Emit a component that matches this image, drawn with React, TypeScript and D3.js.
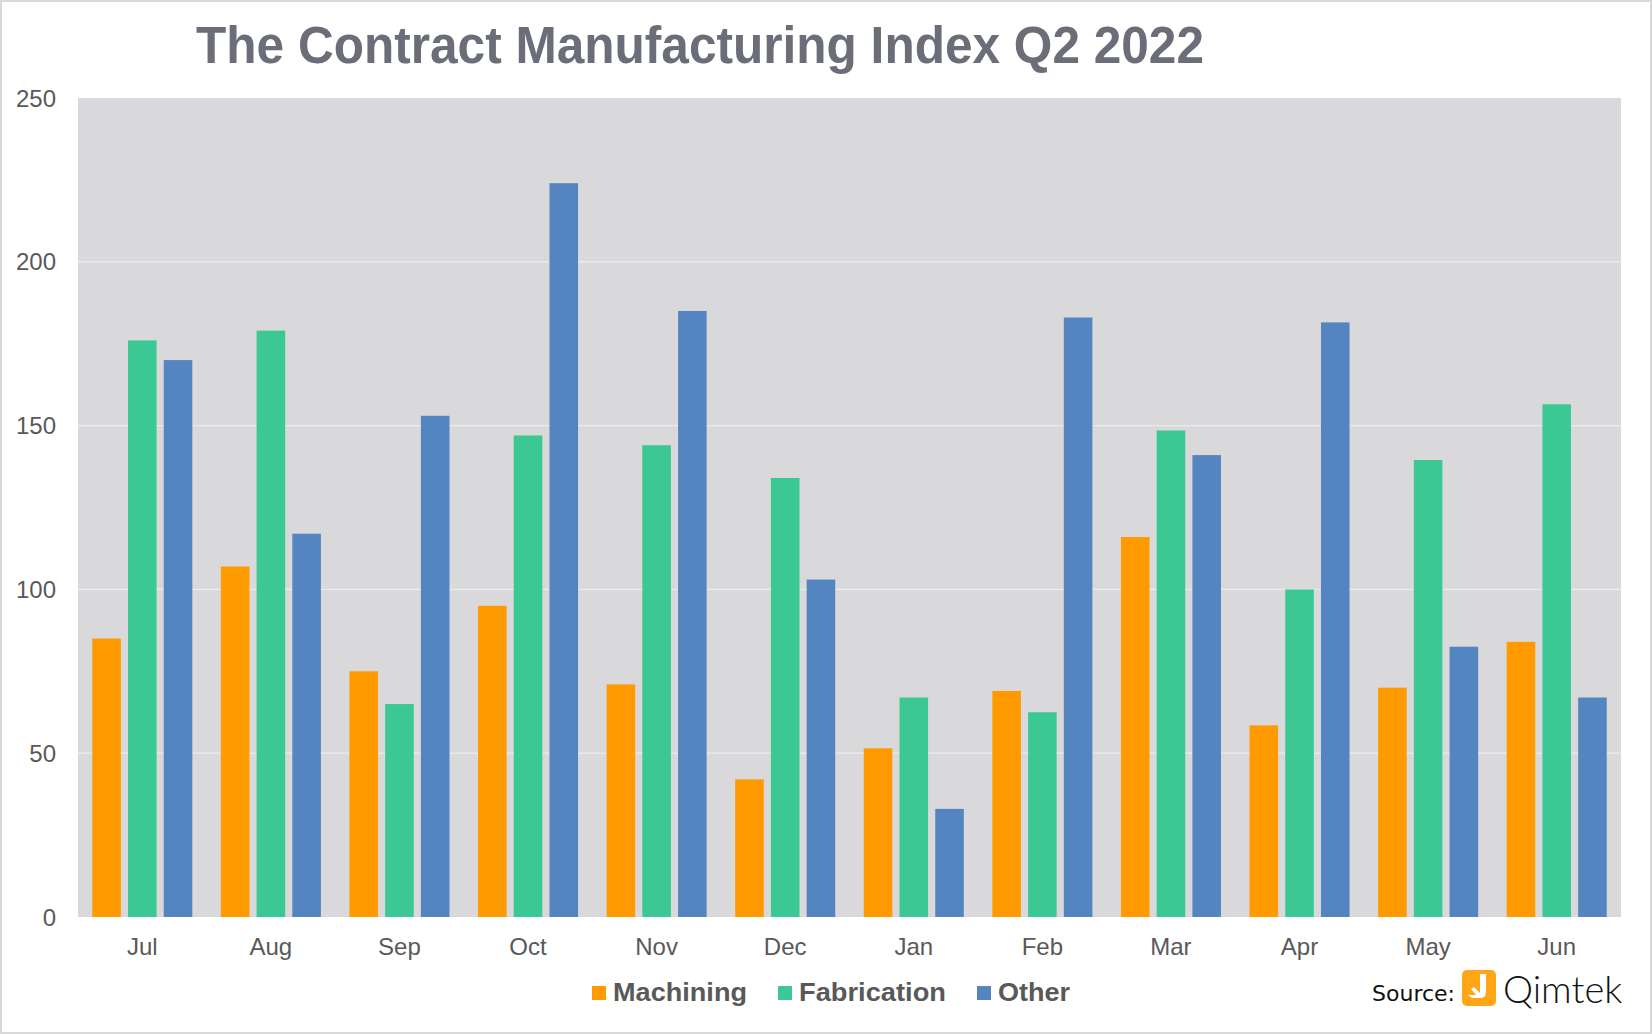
import React, { useRef, useEffect } from 'react';
import * as d3 from 'd3';

// Months on the x axis (July to June)
const months = ["Jul", "Aug", "Sep", "Oct", "Nov", "Dec", "Jan", "Feb", "Mar", "Apr", "May", "Jun"];

// Index values
const machining = [85, 107, 75, 95, 71, 42, 51.5, 69, 116, 58.5, 70, 84];
const fabrication = [176, 179, 65, 147, 144, 134, 67, 62.5, 148.5, 100, 139.5, 156.5];
const other = [170, 117, 153, 224, 185, 103, 33, 183, 141, 181.5, 82.5, 67];

const seriesNames = ["Machining", "Fabrication", "Other"];
const seriesColors = ["#ff9a00", "#3cc894", "#5585c0"];
const yTicks = [0, 50, 100, 150, 200, 250];

const App: React.FC = () => {
  const svgRef = useRef<SVGSVGElement | null>(null);

  useEffect(() => {
    const svg = d3.select(svgRef.current);
    svg.selectAll('*').remove();
    const width = 1652;
    const height = 1034;
    const plot = { left: 78, top: 98, right: 1621, bottom: 917 };

    // outer frame
    svg.append('rect')
      .attr('x', 1).attr('y', 1)
      .attr('width', width - 2).attr('height', height - 2)
      .attr('fill', '#ffffff')
      .attr('stroke', '#d9d9d9')
      .attr('stroke-width', 2);

    const x = d3.scaleBand()
      .domain(months)
      .range([plot.left, plot.right])
      .paddingInner(0)
      .paddingOuter(0);

    const groupPad = x.bandwidth() * 0.111;
    const x1 = d3.scaleBand()
      .domain(seriesNames)
      .range([groupPad, x.bandwidth() - groupPad])
      .paddingInner(0.2);

    const y = d3.scaleLinear()
      .domain([0, 250])
      .range([plot.bottom, plot.top]);

    // plot background
    svg.append('rect')
      .attr('x', plot.left).attr('y', plot.top)
      .attr('width', plot.right - plot.left)
      .attr('height', plot.bottom - plot.top)
      .attr('fill', '#d9d9db');

    // gridlines
    svg.append('g')
      .selectAll('line')
      .data(yTicks.filter(t => t > 0 && t < 250))
      .enter()
      .append('line')
      .attr('x1', plot.left).attr('x2', plot.right)
      .attr('y1', d => y(d)).attr('y2', d => y(d))
      .attr('stroke', '#ececec')
      .attr('stroke-width', 1.2);

    // y axis labels
    svg.append('g')
      .selectAll('text')
      .data(yTicks)
      .enter()
      .append('text')
      .attr('x', 56)
      .attr('y', d => y(d))
      .attr('dy', '0.36em')
      .attr('text-anchor', 'end')
      .style('font-family', 'Arial, "Liberation Sans", sans-serif')
      .style('font-size', '24px')
      .style('fill', '#595959')
      .text(d => d);

    // bars
    const seriesData = [machining, fabrication, other];
    const groups = svg.append('g')
      .selectAll('g')
      .data(months)
      .enter()
      .append('g')
      .attr('transform', d => `translate(${x(d)},0)`);

    groups.selectAll('rect')
      .data((_, i) => seriesNames.map((name, s) => ({ name, s, value: seriesData[s][i] })))
      .enter()
      .append('rect')
      .attr('x', d => x1(d.name) as number)
      .attr('width', x1.bandwidth())
      .attr('y', d => y(d.value))
      .attr('height', d => y(0) - y(d.value))
      .attr('fill', d => seriesColors[d.s]);

    // x axis labels
    svg.append('g')
      .selectAll('text')
      .data(months)
      .enter()
      .append('text')
      .attr('x', d => (x(d) as number) + x.bandwidth() / 2)
      .attr('y', 955)
      .attr('text-anchor', 'middle')
      .style('font-family', 'Arial, "Liberation Sans", sans-serif')
      .style('font-size', '24px')
      .style('fill', '#595959')
      .text(d => d);

    // title
    svg.append('text')
      .attr('x', 196)
      .attr('y', 63)
      .attr('textLength', 1008)
      .attr('lengthAdjust', 'spacingAndGlyphs')
      .style('font-family', 'Arial, "Liberation Sans", sans-serif')
      .style('font-size', '51px')
      .style('font-weight', 'bold')
      .style('fill', '#6b6e78')
      .text('The Contract Manufacturing Index Q2 2022');

    // legend
    const legendX = [592, 778, 977];
    const legendW = [134, 147, 72];
    const legend = svg.append('g')
      .selectAll('g')
      .data(seriesNames)
      .enter()
      .append('g')
      .attr('transform', (_, i) => `translate(${legendX[i]},0)`);

    legend.append('rect')
      .attr('x', 0).attr('y', 986)
      .attr('width', 14).attr('height', 14)
      .attr('fill', (_, i) => seriesColors[i]);

    legend.append('text')
      .attr('x', 21)
      .attr('y', 1001)
      .attr('textLength', (_, i) => legendW[i])
      .attr('lengthAdjust', 'spacingAndGlyphs')
      .style('font-family', 'Arial, "Liberation Sans", sans-serif')
      .style('font-size', '26px')
      .style('font-weight', 'bold')
      .style('fill', '#595959')
      .text(d => d);

    // source with logo
    svg.append('text')
      .attr('x', 1455)
      .attr('y', 1001)
      .attr('text-anchor', 'end')
      .style('font-family', '"DejaVu Sans", Verdana, sans-serif')
      .style('font-size', '22px')
      .style('fill', '#111111')
      .text('Source:');

    const logo = svg.append('g').attr('transform', 'translate(1462,970)');
    logo.append('rect')
      .attr('width', 34).attr('height', 36)
      .attr('rx', 5)
      .attr('fill', '#ffa516');
    logo.append('path')
      .attr('d', 'M18 4 L24 4 L24 22 Q24 28 18 28 L10 28 L6 25 L14 25 L9 19 L12 17 L18 23 Z')
      .attr('fill', '#ffffff');

    svg.append('text')
      .attr('x', 1503)
      .attr('y', 1003)
      .style('font-family', 'Lato, "Open Sans", sans-serif')
      .style('font-size', '38px')
      .style('font-weight', 300)
      .style('fill', '#111111')
      .text('Qimtek');
  }, []);

  return (
    <svg
      ref={svgRef}
      width={1652}
      height={1034}
      style={{ position: 'absolute', left: 0, top: 0 }}
    />
  );
};

export default App;
